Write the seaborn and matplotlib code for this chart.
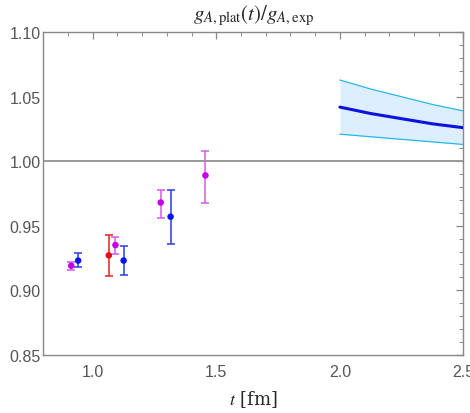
import numpy as np
import pandas as pd
import matplotlib
matplotlib.use('Agg')
import matplotlib.pyplot as plt
import seaborn as sns
from matplotlib.ticker import MultipleLocator

# 数据点 (t, 比值, 误差上下限)
pt_t = [0.913, 0.941, 1.065, 1.092, 1.125, 1.275, 1.315, 1.456]
pt_val = [0.919, 0.923, 0.927, 0.935, 0.923, 0.968, 0.957, 0.989]
pt_lo = [0.916, 0.918, 0.911, 0.928, 0.912, 0.956, 0.936, 0.968]
pt_hi = [0.922, 0.929, 0.943, 0.941, 0.934, 0.978, 0.978, 1.008]
pt_group = ['m', 'b', 'r', 'm', 'b', 'm', 'b', 'm']

# 拟合带
band_t = [2.0, 2.125, 2.25, 2.375, 2.5]
band_mid = [1.042, 1.037, 1.033, 1.029, 1.026]
band_up = [1.063, 1.056, 1.050, 1.044, 1.039]
band_dn = [1.021, 1.019, 1.017, 1.015, 1.013]

sns.set_style('white')
plt.rcParams['font.family'] = ['Liberation Sans', 'DejaVu Sans']
plt.rcParams['mathtext.fontset'] = 'stix'

dot_colors = {'m': '#c400ea', 'b': '#0a14e6', 'r': '#e60d0d'}
bar_colors = {'m': '#d25ae8', 'b': '#2a3ed8', 'r': '#e62020'}

pts = pd.DataFrame({'t': pt_t, 'val': pt_val, 'lo': pt_lo, 'hi': pt_hi, 'grp': pt_group})
band = pd.DataFrame({'t': band_t, 'mid': band_mid, 'up': band_up, 'dn': band_dn})

fig = plt.figure(figsize=(4.7, 4.14), dpi=100)
ax = fig.add_axes([0.0921, 0.1408, 0.894, 0.7788])

ax.axhline(1.0, color='#999999', lw=1.4, zorder=1)

# 误差带
ax.fill_between(band['t'], band['dn'], band['up'], color='#ddeeff', lw=0, zorder=2)
sns.lineplot(data=band, x='t', y='up', color='#22b8e8', lw=0.9, ax=ax, zorder=3)
sns.lineplot(data=band, x='t', y='dn', color='#22b8e8', lw=0.9, ax=ax, zorder=3)
sns.lineplot(data=band, x='t', y='mid', color='#0a14dd', lw=2.2, ax=ax, zorder=4)

for _, r in pts.iterrows():
    ax.errorbar(r['t'], r['val'], yerr=[[r['val'] - r['lo']], [r['hi'] - r['val']]],
                fmt='none', ecolor=bar_colors[r['grp']], elinewidth=1.1,
                capsize=3, capthick=1.1, zorder=5)
sns.scatterplot(data=pts, x='t', y='val', hue='grp', palette=dot_colors,
                s=22, edgecolor='none', legend=False, ax=ax, zorder=6)

ax.set_xlim(0.8, 2.5)
ax.set_ylim(0.85, 1.10)
ax.xaxis.set_major_locator(MultipleLocator(0.5))
ax.xaxis.set_minor_locator(MultipleLocator(0.1))
ax.yaxis.set_major_locator(MultipleLocator(0.05))
ax.yaxis.set_minor_locator(MultipleLocator(0.01))
ax.xaxis.set_major_formatter(matplotlib.ticker.FormatStrFormatter('%.1f'))
ax.yaxis.set_major_formatter(matplotlib.ticker.FormatStrFormatter('%.2f'))
ax.tick_params(which='both', direction='in', top=True, right=True,
               color='#888888', labelcolor='#555555', labelsize=11.5)
ax.tick_params(which='major', length=5, width=0.9)
ax.tick_params(which='minor', length=3, width=0.7)
ax.tick_params(axis='x', pad=7)
ax.tick_params(axis='y', pad=2)
for sp in ax.spines.values():
    sp.set_color('#888888')
    sp.set_linewidth(1.0)

ax.set_xlabel(r'$t$ [fm]', fontsize=13, family='serif', labelpad=6)
ax.set_ylabel('')
ax.set_title(r'$g_{A,\mathrm{plat}}(t)/g_{A,\mathrm{exp}}$', fontsize=15, pad=9)
for t in ax.get_xticklabels() + ax.get_yticklabels():
    t.set_clip_on(False)

fig.savefig('out.png', dpi=100)
